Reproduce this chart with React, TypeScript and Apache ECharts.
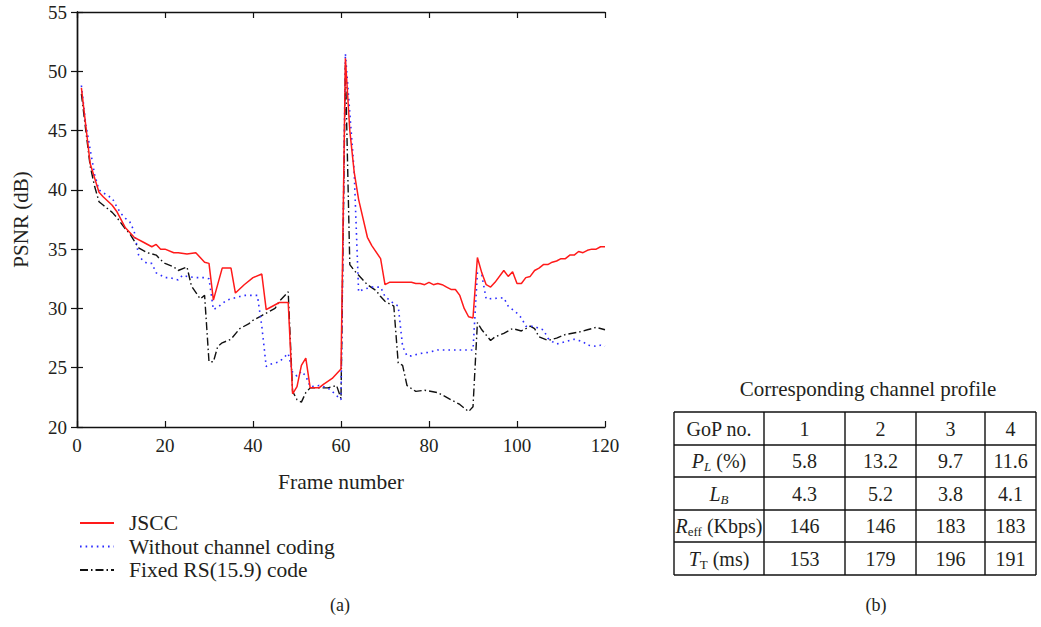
import React, { useEffect, useRef } from "react";
import * as echarts from "echarts";

// ---------- Data ----------
const jsccFrames = [1, 3, 5, 6, 8, 9, 11, 12, 13, 15, 17, 18, 19, 20, 22, 23, 25, 27, 29, 30, 31, 33, 35, 36, 38, 40, 42, 43, 44, 46, 48, 49, 50, 51, 52, 53, 55, 56, 58, 60, 61, 62, 63, 64, 66, 67, 69, 70, 71, 76, 77, 78, 79, 80, 81, 82, 83, 84, 85, 86, 87, 88, 89, 90, 91, 92, 93, 94, 95, 97, 98, 99, 100, 101, 102, 103, 104, 105, 106, 107, 108, 109, 110, 111, 112, 113, 114, 115, 116, 117, 118, 119, 120];
const jsccPsnr = [48.6, 42.2, 39.8, 39.4, 38.7, 38.2, 36.8, 36.4, 36.0, 35.6, 35.2, 35.4, 35.0, 35.0, 34.7, 34.7, 34.6, 34.7, 33.9, 33.8, 30.7, 33.4, 33.4, 31.3, 32.0, 32.6, 32.9, 29.9, 30.1, 30.5, 30.5, 22.8, 23.4, 25.2, 25.8, 23.3, 23.3, 23.6, 24.1, 24.9, 51.1, 45.0, 41.5, 39.2, 36.0, 35.3, 34.2, 32.0, 32.2, 32.2, 32.1, 32.1, 32.0, 32.2, 32.0, 32.1, 32.0, 31.8, 31.6, 31.6, 31.1, 30.0, 29.3, 29.2, 34.3, 33.0, 32.0, 31.8, 32.2, 33.2, 32.7, 33.1, 32.1, 32.1, 32.6, 32.7, 33.2, 33.4, 33.7, 33.7, 33.9, 34.0, 34.2, 34.2, 34.5, 34.5, 34.8, 34.7, 34.9, 35.0, 35.0, 35.2, 35.2];

const noCodingFrames = [1, 2, 4, 5, 7, 8, 9, 10, 11, 12, 13, 14, 15, 16, 17, 18, 20, 21, 23, 24, 25, 27, 29, 30, 31, 32, 34, 35, 37, 38, 40, 41, 42, 43, 44, 46, 48, 49, 50, 51, 52, 53, 55, 57, 58, 60, 61, 62, 63, 64, 65, 67, 69, 70, 72, 73, 74, 75, 76, 78, 80, 82, 90, 91, 92, 93, 97, 98, 100, 101, 102, 104, 105, 106, 107, 108, 109, 110, 112, 113, 115, 116, 118, 119, 120];
const noCodingPsnr = [48.8, 45.5, 41.3, 40.0, 39.5, 39.3, 38.6, 38.0, 37.6, 37.3, 36.5, 34.5, 34.0, 33.8, 33.8, 33.0, 32.6, 32.6, 32.4, 32.8, 32.7, 32.6, 32.6, 32.5, 29.9, 30.1, 30.7, 30.8, 31.0, 31.1, 31.1, 31.1, 28.5, 25.1, 25.3, 25.5, 26.2, 24.6, 24.3, 24.7, 24.3, 23.4, 23.5, 23.3, 23.0, 22.3, 51.5, 46.5, 41.5, 31.4, 31.6, 31.8, 31.8, 31.0, 30.4, 30.2, 26.8, 26.0, 26.0, 26.2, 26.3, 26.5, 26.5, 33.0, 32.8, 30.8, 30.9, 30.2, 29.6, 29.2, 28.5, 28.5, 28.3, 28.2, 27.5, 27.2, 27.0, 27.1, 27.3, 27.4, 27.2, 26.9, 26.8, 26.9, 26.8];

const fixedRsFrames = [1, 2, 3, 4, 5, 6, 7, 8, 9, 11, 12, 13, 14, 16, 18, 19, 20, 22, 23, 25, 26, 28, 29, 30, 31, 32, 33, 35, 37, 39, 40, 42, 45, 46, 48, 49, 50, 51, 52, 53, 57, 58, 59, 60, 61, 62, 63, 65, 66, 68, 69, 70, 72, 73, 74, 75, 77, 79, 82, 83, 86, 87, 89, 90, 91, 92, 94, 95, 97, 99, 101, 103, 104, 105, 107, 109, 111, 114, 116, 118, 120];
const fixedRsPsnr = [48.1, 45.0, 42.0, 40.3, 39.0, 38.7, 38.4, 38.1, 37.7, 36.7, 36.3, 35.7, 35.1, 34.7, 34.5, 34.1, 33.8, 33.5, 33.2, 33.5, 31.9, 30.8, 31.1, 25.5, 25.5, 26.8, 27.1, 27.4, 28.3, 28.7, 29.0, 29.4, 30.0, 30.6, 31.4, 23.0, 22.3, 22.1, 22.9, 23.3, 23.3, 23.4, 23.5, 22.4, 50.5, 33.7, 33.2, 32.4, 32.0, 31.5, 31.0, 30.6, 30.2, 25.4, 25.2, 23.5, 23.0, 23.1, 22.9, 22.7, 22.1, 21.9, 21.3, 21.7, 28.8, 28.2, 27.3, 27.6, 27.9, 28.3, 28.1, 28.5, 28.3, 27.6, 27.3, 27.5, 27.8, 28.0, 28.2, 28.4, 28.2];

const seriesNames = ["JSCC", "Without channel coding", "Fixed RS(15.9) code"];
const xTicks = { min: 0, max: 120, interval: 20 };
const yTicks = { min: 20, max: 55, interval: 5 };

// Table (b)
const tableTitle = "Corresponding channel profile";
const gopNumbers = ["1", "2", "3", "4"];
const packetLoss = [5.8, 13.2, 9.7, 11.6];
const burstLength = [4.3, 5.2, 3.8, 4.1];
const effectiveRate = [146, 146, 183, 183];
const transmissionTime = [153, 179, 196, 191];

const FONT = "'Liberation Serif', 'DejaVu Serif', serif";
const TXT = "#231f20";

const pairs = (xs: number[], ys: number[]) => xs.map((x, i) => [x, ys[i]]);

function buildTable(): any[] {
  const colEdges = [674, 764, 845, 916, 985, 1036];
  const rowEdges = [412, 445, 477, 510, 542, 575];
  const els: any[] = [];
  els.push({
    type: "text",
    x: 868,
    y: 389,
    style: { text: tableTitle, font: `21px ${FONT}`, fill: TXT, align: "center", verticalAlign: "middle" },
  });
  colEdges.forEach((x) =>
    els.push({ type: "line", shape: { x1: x, y1: rowEdges[0], x2: x, y2: rowEdges[rowEdges.length - 1] }, style: { stroke: "#111", lineWidth: 1.4 } })
  );
  rowEdges.forEach((y) =>
    els.push({ type: "line", shape: { x1: colEdges[0], y1: y, x2: colEdges[colEdges.length - 1], y2: y }, style: { stroke: "#111", lineWidth: 1.4 } })
  );
  const rich = {
    i: { fontFamily: FONT, fontSize: 20, fontStyle: "italic", fill: TXT },
    si: { fontFamily: FONT, fontSize: 13, fontStyle: "italic", fill: TXT, padding: [11, 0, 0, 0] },
    s: { fontFamily: FONT, fontSize: 13, fill: TXT, padding: [11, 0, 0, 0] },
    n: { fontFamily: FONT, fontSize: 20, fill: TXT },
  };
  const rowLabels = [
    "{n|GoP no.}",
    "{i|P}{si|L}{n| (%)}",
    "{i|L}{si|B}",
    "{i|R}{s|eff}{n| (Kbps)}",
    "{i|T}{s|T}{n| (ms)}",
  ];
  const rows: string[][] = [
    gopNumbers,
    packetLoss.map((v) => v.toFixed(1)),
    burstLength.map((v) => v.toFixed(1)),
    effectiveRate.map(String),
    transmissionTime.map(String),
  ];
  rows.forEach((vals, r) => {
    const cy = (rowEdges[r] + rowEdges[r + 1]) / 2;
    els.push({
      type: "text",
      x: (colEdges[0] + colEdges[1]) / 2,
      y: cy,
      style: { text: rowLabels[r], rich, font: `20px ${FONT}`, fill: TXT, align: "center", verticalAlign: "middle" },
    });
    vals.forEach((v, c) => {
      els.push({
        type: "text",
        x: (colEdges[c + 1] + colEdges[c + 2]) / 2,
        y: cy,
        style: { text: v, font: `20px ${FONT}`, fill: TXT, align: "center", verticalAlign: "middle" },
      });
    });
  });
  els.push({ type: "text", x: 876, y: 605, style: { text: "(b)", font: `18px ${FONT}`, fill: TXT, align: "center", verticalAlign: "middle" } });
  els.push({ type: "text", x: 340, y: 605, style: { text: "(a)", font: `18px ${FONT}`, fill: TXT, align: "center", verticalAlign: "middle" } });
  return els;
}

export default function App() {
  const ref = useRef<HTMLDivElement>(null);
  useEffect(() => {
    document.body.style.margin = "0";
    const chart = echarts.init(ref.current!, null, { renderer: "svg" });
    const axisCommon = {
      axisLine: { show: true, lineStyle: { color: "#111", width: 1.4 } },
      axisTick: { show: true, inside: true, length: 6, lineStyle: { color: "#111", width: 1.2 } },
      splitLine: { show: false },
    };
    chart.setOption({
      animation: false,
      backgroundColor: "#fff",
      grid: { left: 77, top: 12, right: 436, bottom: 200, containLabel: false },
      xAxis: [
        {
          type: "value",
          ...xTicks,
          position: "bottom",
          ...axisCommon,
          axisLabel: { fontFamily: FONT, fontSize: 19, color: TXT, margin: 9 },
          name: "Frame number",
          nameLocation: "middle",
          nameGap: 44,
          nameTextStyle: { fontFamily: FONT, fontSize: 21.5, color: TXT },
        },
        { type: "value", ...xTicks, position: "top", ...axisCommon, axisLabel: { show: false } },
      ],
      yAxis: [
        {
          type: "value",
          ...yTicks,
          position: "left",
          ...axisCommon,
          axisLabel: { fontFamily: FONT, fontSize: 19, color: TXT, margin: 10 },
          name: "PSNR (dB)",
          nameLocation: "middle",
          nameGap: 46,
          nameTextStyle: { fontFamily: FONT, fontSize: 21, color: TXT },
        },
        { type: "value", ...yTicks, position: "right", ...axisCommon, axisLabel: { show: false } },
      ],
      legend: {
        orient: "vertical",
        left: 74,
        top: 507,
        itemWidth: 34,
        itemHeight: 14,
        itemGap: 1.5,
        itemStyle: { opacity: 0 },
        textStyle: { fontFamily: FONT, fontSize: 21.5, lineHeight: 22, color: TXT, padding: [0, 0, 0, 10] },
        data: seriesNames,
      },
      series: [
        {
          name: seriesNames[0],
          type: "line",
          data: pairs(jsccFrames, jsccPsnr),
          symbol: "none",
          lineStyle: { color: "#ff1a1a", width: 1.5, type: "solid" },
          itemStyle: { color: "#ff1a1a" },
          z: 4,
        },
        {
          name: seriesNames[1],
          type: "line",
          data: pairs(noCodingFrames, noCodingPsnr),
          symbol: "none",
          lineStyle: { color: "#2b2bff", width: 1.6, type: [1.6, 4] },
          itemStyle: { color: "#2b2bff" },
          z: 3,
        },
        {
          name: seriesNames[2],
          type: "line",
          data: pairs(fixedRsFrames, fixedRsPsnr),
          symbol: "none",
          lineStyle: { color: "#111", width: 1.4, type: [8, 3, 1.5, 3] },
          itemStyle: { color: "#111" },
          z: 2,
        },
      ],
      graphic: buildTable(),
    });
    return () => chart.dispose();
  }, []);
  return <div ref={ref} style={{ width: 1041, height: 627 }} />;
}
